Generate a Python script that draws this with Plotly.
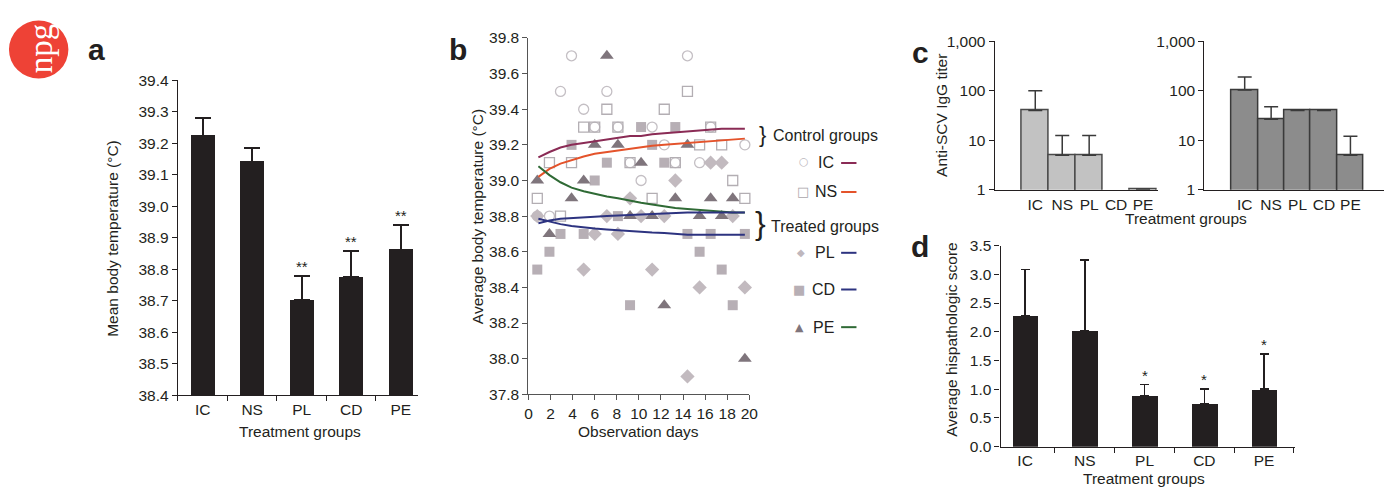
import plotly.graph_objects as go

W, H = 1394, 494
def px(x): return x / W
def py(y): return 1 - y / H

FONT = "Liberation Sans, Arial, Helvetica, sans-serif"
INK = "#231f20"

# ---------------- data ----------------
groups = ["IC", "NS", "PL", "CD", "PE"]

# panel a
a_mean = [39.225, 39.142, 38.702, 38.775, 38.862]
a_err = [0.057, 0.045, 0.078, 0.084, 0.080]
a_sig = ["", "", "**", "**", "**"]

# panel b scatter (observation day, temperature)
ic_days = [3.9, 14.4, 2.9, 7.1, 5.0, 6.0, 8.1, 11.2, 16.5, 12.3, 19.6, 9.2, 13.3, 15.5, 10.2, 0.8, 1.9]
ic_temp = [39.7, 39.7, 39.5, 39.5, 39.4, 39.3, 39.3, 39.3, 39.3, 39.2, 39.2, 39.1, 39.1, 39.1, 39.0, 38.8, 38.8]
ns_days = [14.4, 7.1, 12.3, 5.0, 6.0, 8.1, 16.5, 15.5, 17.5, 1.9, 3.9, 9.2, 13.3, 18.5, 0.8, 11.2, 19.6, 2.9]
ns_temp = [39.5, 39.4, 39.4, 39.3, 39.3, 39.3, 39.3, 39.2, 39.2, 39.1, 39.1, 39.1, 39.1, 39.0, 38.9, 38.9, 38.9, 38.8]
pl_days = [16.5, 17.5, 13.3, 9.2, 0.8, 7.1, 10.2, 12.3, 18.5, 6.0, 8.1, 5.0, 11.2, 15.5, 19.6, 14.4]
pl_temp = [39.1, 39.1, 39.0, 38.9, 38.8, 38.8, 38.8, 38.8, 38.8, 38.7, 38.7, 38.5, 38.5, 38.4, 38.4, 37.9]
cd_days = [10.2, 13.3, 3.9, 11.2, 7.1, 12.3, 6.0, 8.1, 2.9, 5.0, 14.4, 16.5, 19.6, 1.9, 15.5, 0.8, 17.5, 9.2, 18.5]
cd_temp = [39.3, 39.3, 39.2, 39.2, 39.1, 39.1, 39.0, 38.8, 38.7, 38.7, 38.7, 38.7, 38.7, 38.6, 38.6, 38.5, 38.5, 38.3, 38.3]
pe_days = [7.1, 6.0, 8.1, 14.4, 10.2, 0.8, 5.0, 3.9, 13.3, 16.5, 18.5, 9.2, 11.2, 15.5, 17.5, 1.9, 12.3, 19.6]
pe_temp = [39.7, 39.2, 39.2, 39.2, 39.1, 39.0, 39.0, 38.9, 38.9, 38.9, 38.9, 38.8, 38.8, 38.8, 38.8, 38.7, 38.3, 38.0]

# panel b trend lines
line_days = [0.9, 1.9, 2.9, 3.9, 5.0, 6.0, 7.1, 8.1, 9.2, 10.2, 11.2, 12.3, 13.3, 14.4, 15.5, 16.5, 17.5, 18.5, 19.6]
ic_line = [39.13, 39.16, 39.185, 39.20, 39.21, 39.22, 39.23, 39.24, 39.25, 39.25, 39.26, 39.265, 39.27, 39.275, 39.28, 39.285, 39.29, 39.29, 39.29]
ns_line = [39.02, 39.065, 39.095, 39.115, 39.135, 39.15, 39.16, 39.17, 39.18, 39.19, 39.195, 39.20, 39.205, 39.21, 39.215, 39.22, 39.225, 39.23, 39.235]
pe_line = [39.08, 39.03, 38.99, 38.96, 38.94, 38.925, 38.91, 38.90, 38.885, 38.875, 38.865, 38.855, 38.845, 38.84, 38.835, 38.83, 38.825, 38.82, 38.82]
cd_line = [38.76, 38.775, 38.785, 38.79, 38.795, 38.797, 38.80, 38.803, 38.806, 38.808, 38.81, 38.813, 38.816, 38.82, 38.82, 38.82, 38.82, 38.82, 38.82]
pl_line = [38.785, 38.77, 38.755, 38.745, 38.735, 38.73, 38.725, 38.72, 38.715, 38.71, 38.708, 38.705, 38.70, 38.695, 38.695, 38.695, 38.695, 38.695, 38.695]

# panel c
c1_titer = [40, 5, 5, None, 1.03]
c1_err = [60, 7.5, 7.5, 0, 0]
c2_titer = [103, 26.5, 40, 40, 5]
c2_err = [87, 21, 0, 0, 7]
c_ticks = [1, 10, 100, 1000]
c_ticklabels = ["1", "10", "100", "1,000"]

# panel d
d_mean = [2.28, 2.02, 0.885, 0.745, 1.0]
d_err = [0.80, 1.23, 0.195, 0.255, 0.61]
d_sig = ["", "", "*", "*", "*"]

fig = go.Figure()

# ---------- panel a ----------
fig.add_trace(go.Bar(
    x=groups, y=a_mean, xaxis="x", yaxis="y", width=0.48,
    marker=dict(color=INK, line=dict(width=0)),
    error_y=dict(type="data", symmetric=False, array=a_err, arrayminus=[0] * 5,
                 color=INK, thickness=2, width=8),
    showlegend=False))

# ---------- panel b ----------
light_open = "#c4bfc4"
sq_open = "#b3aeb3"
fig.add_trace(go.Scatter(x=ic_days, y=ic_temp, xaxis="x2", yaxis="y2", mode="markers",
                         marker=dict(symbol="circle-open", size=10, color=light_open, line=dict(width=1.3)),
                         showlegend=False, cliponaxis=False))
fig.add_trace(go.Scatter(x=ns_days, y=ns_temp, xaxis="x2", yaxis="y2", mode="markers",
                         marker=dict(symbol="square-open", size=10, color=sq_open, line=dict(width=1.3)),
                         showlegend=False, cliponaxis=False))
fig.add_trace(go.Scatter(x=pl_days, y=pl_temp, xaxis="x2", yaxis="y2", mode="markers",
                         marker=dict(symbol="diamond", size=11, color="#c2babf"),
                         showlegend=False, cliponaxis=False))
fig.add_trace(go.Scatter(x=cd_days, y=cd_temp, xaxis="x2", yaxis="y2", mode="markers",
                         marker=dict(symbol="square", size=10, color="#b7afb5"),
                         showlegend=False, cliponaxis=False))
fig.add_trace(go.Scatter(x=pe_days, y=pe_temp, xaxis="x2", yaxis="y2", mode="markers",
                         marker=dict(symbol="triangle-up", size=12, color="#7f757c"),
                         showlegend=False, cliponaxis=False))

col_ic = "#8a2b55"
col_ns = "#e4532b"
col_pe = "#2f6a35"
col_blue = "#2d3380"
for yv, col in [(ic_line, col_ic), (ns_line, col_ns), (pe_line, col_pe), (cd_line, col_blue), (pl_line, col_blue)]:
    fig.add_trace(go.Scatter(x=line_days, y=yv, xaxis="x2", yaxis="y2", mode="lines",
                             line=dict(color=col, width=2), showlegend=False))

# ---------- panel c ----------
fig.add_trace(go.Bar(
    x=groups, y=c1_titer, xaxis="x3", yaxis="y3", width=1.0,
    marker=dict(color="#c2c2c2", line=dict(color="#4a4a4a", width=1.5)),
    error_y=dict(type="data", symmetric=False, array=c1_err, arrayminus=[0] * 5,
                 color="#3a3a3a", thickness=1.5, width=7),
    showlegend=False))
fig.add_trace(go.Bar(
    x=groups, y=c2_titer, xaxis="x4", yaxis="y4", width=1.0,
    marker=dict(color="#8c8c8c", line=dict(color="#3a3a3a", width=1.5)),
    error_y=dict(type="data", symmetric=False, array=c2_err, arrayminus=[0] * 5,
                 color="#3a3a3a", thickness=1.5, width=7),
    showlegend=False))

# ---------- panel d ----------
fig.add_trace(go.Bar(
    x=groups, y=d_mean, xaxis="x5", yaxis="y5", width=0.43,
    marker=dict(color=INK, line=dict(width=0)),
    error_y=dict(type="data", symmetric=False, array=d_err, arrayminus=[0] * 5,
                 color=INK, thickness=1.5, width=4.5),
    showlegend=False))

tickfont = dict(family=FONT, size=15.5, color=INK)
axis_common = dict(showgrid=False, zeroline=False, showline=True, linecolor=INK, linewidth=1.3,
                   ticks="outside", ticklen=5, tickwidth=1.3, tickcolor=INK, tickfont=tickfont)

fig.update_layout(
    width=W, height=H, margin=dict(l=0, r=0, t=0, b=0), autosize=False,
    paper_bgcolor="white", plot_bgcolor="white", bargap=0,
    font=dict(family=FONT, color=INK),
    xaxis=dict(axis_common, domain=[px(175.5), px(418)], anchor="y", type="category",
               range=[-0.5, 4.35], tickson="boundaries"),
    yaxis=dict(axis_common, domain=[py(400), py(74)], anchor="x", range=[38.4, 39.4],
               dtick=0.1, tick0=38.4, tickformat=".1f"),
    xaxis2=dict(axis_common, domain=[px(529.4), px(752.3)], anchor="y2", range=[0, 20], dtick=2,
                linecolor="#555", tickcolor="#555"),
    yaxis2=dict(axis_common, domain=[py(399), py(30)], anchor="x2", range=[37.8, 39.8], dtick=0.2,
                tickformat=".1f", linecolor="#555", tickcolor="#555"),
    xaxis3=dict(axis_common, domain=[px(1000), px(1165)], anchor="y3", type="category",
                range=[-1.507, 4.56], ticks=""),
    yaxis3=dict(axis_common, domain=[py(187.3), py(33.3)], anchor="x3", type="log", range=[0, 3],
                tickvals=c_ticks, ticktext=c_ticklabels),
    xaxis4=dict(axis_common, domain=[px(1211.7), px(1393)], anchor="y4", type="category",
                range=[-1.524, 5.27], ticks=""),
    yaxis4=dict(axis_common, domain=[py(187.3), py(33.3)], anchor="x4", type="log", range=[0, 3],
                tickvals=c_ticks, ticktext=c_ticklabels),
    xaxis5=dict(axis_common, domain=[px(1006), px(1302.7)], anchor="y5", type="category",
                range=[-0.41, 4.51], tickson="boundaries"),
    yaxis5=dict(axis_common, domain=[py(453.3), py(245)], anchor="x5", range=[0, 3.5],
                dtick=0.5, tickformat=".1f"),
)

ann = []
def text(x, y, s, size=15.5, xanchor="center", yanchor="middle", angle=0, color=INK, bold=False, family=FONT):
    ann.append(dict(x=px(x), y=py(y), xref="paper", yref="paper", text=("<b>%s</b>" % s) if bold else s,
                    showarrow=False, xanchor=xanchor, yanchor=yanchor, textangle=angle,
                    font=dict(family=family, size=size, color=color)))

# axis titles
text(110, 237, "Mean body temperature (°C)", angle=-90)
text(299, 437.5, "Treatment groups")
text(478, 215, "Average body temperature (°C)", angle=-90)
text(640, 438, "Observation days")
text(946.5, 110, "Anti-SCV IgG titer", angle=-90)
text(1193, 216.5, "Treatment groups")
text(956.5, 343, "Average hispathologic score", angle=-90)
text(1150.5, 486, "Treatment groups")

# panel letters
text(93, 42, "a", size=30, bold=True)
text(458, 42, "b", size=30, bold=True)
text(925, 45, "c", size=30, bold=True)
text(925, 246, "d", size=30, bold=True)

# significance marks
for g, m, e, s in zip(groups, a_mean, a_err, a_sig):
    if s:
        ann.append(dict(x=g, y=m + e, xref="x", yref="y", text=s, showarrow=False,
                        yanchor="bottom", yshift=-1, font=dict(family=FONT, size=15, color=INK)))
for g, m, e, s in zip(groups, d_mean, d_err, d_sig):
    if s:
        ann.append(dict(x=g, y=m + e, xref="x5", yref="y5", text=s, showarrow=False,
                        yanchor="bottom", yshift=-1, font=dict(family=FONT, size=15, color=INK)))

# panel b legend
text(766, 130, "}", size=22)
text(774, 131.5, "Control groups", size=16, xanchor="left")
text(807.5, 158, "○", size=11, color="#bdb8bd", family="DejaVu Sans")
text(820, 159, "IC", size=16, xanchor="left")
text(806.5, 189.5, "□", size=13, color="#aaa5aa", family="DejaVu Sans")
text(817, 189.5, "NS", size=16, xanchor="left")
text(764, 222, "}", size=32)
text(772.5, 225.5, "Treated groups", size=16, xanchor="left")
text(804, 252.5, "◆", size=10, color="#bfb7bd", family="DejaVu Sans")
text(817, 252.5, "PL", size=16, xanchor="left")
text(802, 290.5, "■", size=13, color="#b7afb5", family="DejaVu Sans")
text(814, 290.5, "CD", size=16, xanchor="left")
text(802.5, 329.5, "▲", size=11, color="#7f757c", family="DejaVu Sans")
text(815, 329.5, "PE", size=16, xanchor="left")

shapes = []
for yy, col in [(159.5, col_ic), (189.5, col_ns), (252.5, col_blue), (290.5, col_blue), (329.5, col_pe)]:
    shapes.append(dict(type="line", xref="paper", yref="paper", x0=px(845), x1=px(860.5),
                       y0=py(yy), y1=py(yy), line=dict(color=col, width=2)))

# npg logo
shapes.append(dict(type="circle", xref="paper", yref="paper", x0=px(5), x1=px(65), y0=py(72), y1=py(12),
                   fillcolor="#ee4236", line=dict(width=0)))
text(37, 41, "npg", size=33, angle=-90, color="white", family="Liberation Serif, DejaVu Serif, serif")

fig.update_layout(annotations=ann, shapes=shapes)
fig.write_html(
    "out.html",
    config={"displayModeBar": False},
    post_script=("var d=document.getElementById('{plot_id}');"
                 "d.style.position='fixed';d.style.top='0px';d.style.left='0px';"
                 "document.body.style.margin='0';document.documentElement.style.overflow='hidden';"),
)
